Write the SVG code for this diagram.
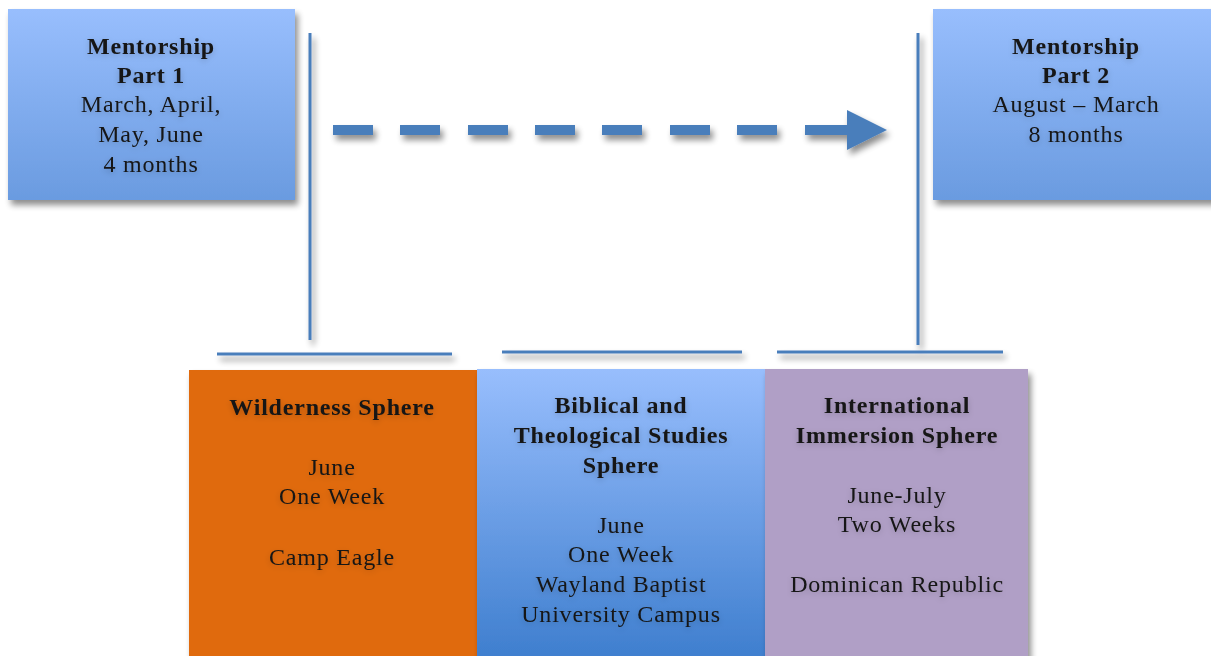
<svg xmlns="http://www.w3.org/2000/svg" width="1211" height="656" viewBox="0 0 1211 656">
  <defs>
    <linearGradient id="blueTop" x1="0" y1="0" x2="0" y2="1">
      <stop offset="0" stop-color="#98BEFD"/>
      <stop offset="1" stop-color="#6A9BE0"/>
    </linearGradient>
    <linearGradient id="blueMid" x1="0" y1="0" x2="0" y2="1">
      <stop offset="0" stop-color="#98BEFD"/>
      <stop offset="1" stop-color="#3E7ECE"/>
    </linearGradient>
    <filter id="shadow" x="-10%" y="-10%" width="130%" height="140%">
      <feGaussianBlur in="SourceAlpha" stdDeviation="3"/>
      <feOffset dx="3" dy="5" result="b"/>
      <feComponentTransfer><feFuncA type="linear" slope="0.45"/></feComponentTransfer>
      <feMerge><feMergeNode/><feMergeNode in="SourceGraphic"/></feMerge>
    </filter>
    <filter id="tshadow" x="-10%" y="-30%" width="120%" height="160%">
      <feGaussianBlur in="SourceAlpha" stdDeviation="3"/>
      <feOffset dx="0" dy="2"/>
      <feComponentTransfer><feFuncA type="linear" slope="0.2"/></feComponentTransfer>
      <feMerge><feMergeNode/><feMergeNode in="SourceGraphic"/></feMerge>
    </filter>
  </defs>
  <style>
    text { font-family: "Liberation Serif", "DejaVu Serif", serif; font-size: 24px; letter-spacing: 0.8px; fill: #151515; text-anchor: middle; }
    .b { font-weight: bold; }
    .ln { stroke: #4A7EBB; stroke-width: 3; fill: none; }
    .dash { fill: #4A7EBB; }
  </style>
  <rect width="1211" height="656" fill="#FFFFFF"/>

  <g id="connectors" filter="url(#shadow)">
    <line class="ln" x1="310" y1="33" x2="310" y2="340"/>
    <line class="ln" x1="918" y1="33" x2="918" y2="345"/>
    <line class="ln" x1="217" y1="354" x2="452" y2="354"/>
    <line class="ln" x1="502" y1="352" x2="742" y2="352"/>
    <line class="ln" x1="777" y1="352" x2="1003" y2="352"/>
    <g id="dashed-arrow">
      <rect class="dash" x="333" y="125" width="40" height="10"/>
      <rect class="dash" x="400" y="125" width="40" height="10"/>
      <rect class="dash" x="468" y="125" width="40" height="10"/>
      <rect class="dash" x="535" y="125" width="40" height="10"/>
      <rect class="dash" x="602" y="125" width="40" height="10"/>
      <rect class="dash" x="670" y="125" width="40" height="10"/>
      <rect class="dash" x="737" y="125" width="40" height="10"/>
      <rect class="dash" x="805" y="125" width="42" height="10"/>
      <polygon class="dash" points="847,110 887,130 847,150"/>
    </g>
  </g>

  <g id="mentorship1">
    <rect x="8" y="9" width="287" height="191" fill="url(#blueTop)" filter="url(#shadow)"/>
    <g filter="url(#tshadow)">
      <text class="b" x="151" y="54">Mentorship</text>
      <text class="b" x="151" y="83">Part 1</text>
      <text x="151" y="112">March, April,</text>
      <text x="151" y="142">May, June</text>
      <text x="151" y="172">4 months</text>
    </g>
  </g>

  <g id="mentorship2">
    <rect x="933" y="9" width="285" height="191" fill="url(#blueTop)" filter="url(#shadow)"/>
    <g filter="url(#tshadow)">
      <text class="b" x="1076" y="54">Mentorship</text>
      <text class="b" x="1076" y="83">Part 2</text>
      <text x="1076" y="112">August – March</text>
      <text x="1076" y="142">8 months</text>
    </g>
  </g>

  <g id="wilderness">
    <rect x="189" y="370" width="288" height="290" fill="#E06A0A" filter="url(#shadow)"/>
    <g filter="url(#tshadow)">
      <text class="b" x="332" y="415">Wilderness Sphere</text>
      <text x="332" y="475">June</text>
      <text x="332" y="504">One Week</text>
      <text x="332" y="565">Camp Eagle</text>
    </g>
  </g>

  <g id="biblical">
    <rect x="477" y="369" width="288" height="291" fill="url(#blueMid)" filter="url(#shadow)"/>
    <g filter="url(#tshadow)">
      <text class="b" x="621" y="413">Biblical and</text>
      <text class="b" x="621" y="443">Theological Studies</text>
      <text class="b" x="621" y="473">Sphere</text>
      <text x="621" y="533">June</text>
      <text x="621" y="562">One Week</text>
      <text x="621" y="592">Wayland Baptist</text>
      <text x="621" y="622">University Campus</text>
    </g>
  </g>

  <g id="international">
    <rect x="765" y="369" width="263" height="291" fill="#B09FC6" filter="url(#shadow)"/>
    <g filter="url(#tshadow)">
      <text class="b" x="897" y="413">International</text>
      <text class="b" x="897" y="443">Immersion Sphere</text>
      <text x="897" y="503">June-July</text>
      <text x="897" y="532">Two Weeks</text>
      <text x="897" y="592">Dominican Republic</text>
    </g>
  </g>
</svg>
